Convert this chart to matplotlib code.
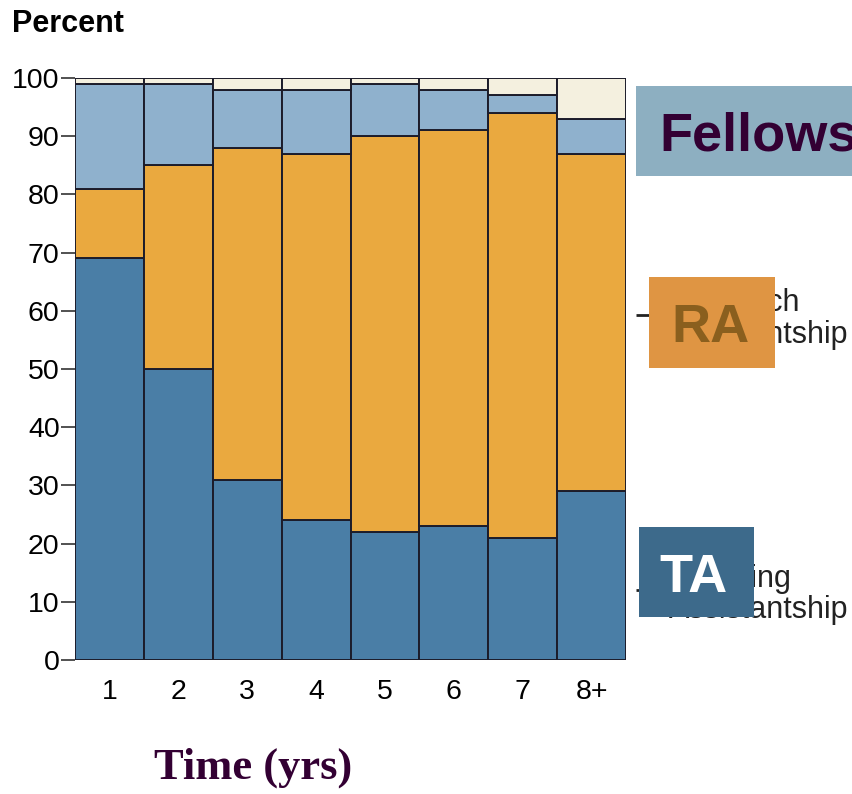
import matplotlib
matplotlib.use("Agg")
import matplotlib.pyplot as plt
import numpy as np
from matplotlib.patches import Rectangle

categories = ["1", "2", "3", "4", "5", "6", "7", "8+"]
ta = [69, 50, 31, 24, 22, 23, 21, 29]
ra_top = [81, 85, 88, 87, 90, 91, 94, 87]
fellow_top = [99, 99, 98, 98, 99, 98, 97, 93]
total = [100, 100, 100, 100, 100, 100, 100, 100]
right_ticks = [96.6, 88.5, 59.3, 12]
right_labels = ["Other", "Fellowship", "Research\nAssistantship", "Teaching\nAssistantship"]

ta_arr = np.array(ta)
ra_arr = np.array(ra_top) - ta_arr
fe_arr = np.array(fellow_top) - np.array(ra_top)
ot_arr = np.array(total) - np.array(fellow_top)

plt.rcParams['font.family'] = ['Liberation Sans', 'DejaVu Sans']

W, H = 852, 794
fig = plt.figure(figsize=(W / 100, H / 100), dpi=100)
fig.patch.set_facecolor("white")
ax = fig.add_axes([75 / W, 1 - 660 / H, (626 - 75) / W, (660 - 78) / H])

x = np.arange(len(categories))
ec = "#1c1c2a"
kw = dict(width=1.0, edgecolor=ec, linewidth=1.4)
ax.bar(x, ta_arr, color="#4a7ea6", **kw)
ax.bar(x, ra_arr, bottom=ta_arr, color="#eaa93f", **kw)
ax.bar(x, fe_arr, bottom=np.array(ra_top), color="#8fb1cd", **kw)
ax.bar(x, ot_arr, bottom=np.array(fellow_top), color="#f4f0df", **kw)

ax.set_xlim(-0.5, len(categories) - 0.5)
ax.set_ylim(0, 100)
for s in ax.spines.values():
    s.set_visible(False)
ax.set_yticks(range(0, 101, 10))
ax.tick_params(axis="y", length=10, width=1.2, pad=1, labelsize=20.5, color="#333333")
ax.set_xticks(x)
ax.set_xticklabels(categories)
ax.tick_params(axis="x", length=0, pad=14, labelsize=20.5)

ax2 = ax.twinx()
ax2.set_ylim(0, 100)
for s in ax2.spines.values():
    s.set_visible(False)
ax2.spines['right'].set_position(('outward', 7))
ax2.set_yticks(right_ticks)
ax2.set_yticklabels(right_labels, fontsize=22, color="#222222", linespacing=1.05)
ax2.tick_params(axis="y", length=9, width=2, pad=15, color="#222222")

fig.text(12 / W, 1 - 24 / H, "Percent", fontsize=22, fontweight="bold",
         ha="left", va="center")

fig.text(253 / W, 1 - 768 / H, "Time (yrs)", fontsize=32, fontweight="bold",
         family="Liberation Serif", color="#330033", ha="center", va="center")

# overlay boxes
def box(x0, y0, x1, y1, color, text, tcolor, tx):
    fig.patches.append(Rectangle((x0 / W, 1 - y1 / H), (x1 - x0) / W, (y1 - y0) / H,
                                 transform=fig.transFigure, facecolor=color,
                                 edgecolor="none", zorder=5))
    fig.text(tx / W, 1 - (y0 + y1) / 2 / H, text, fontsize=39, fontweight="bold",
             color=tcolor, ha="left", va="center_baseline", zorder=6)

box(636, 86, 860, 176, "#8dafc1", "Fellows", "#330033", 659)
box(649, 277, 775, 368, "#df9543", "RA", "#8a5f1e", 671)
box(639, 527, 754, 617, "#3d6a8b", "TA", "#ffffff", 659)

fig.savefig("out.png", dpi=100, facecolor="white")
